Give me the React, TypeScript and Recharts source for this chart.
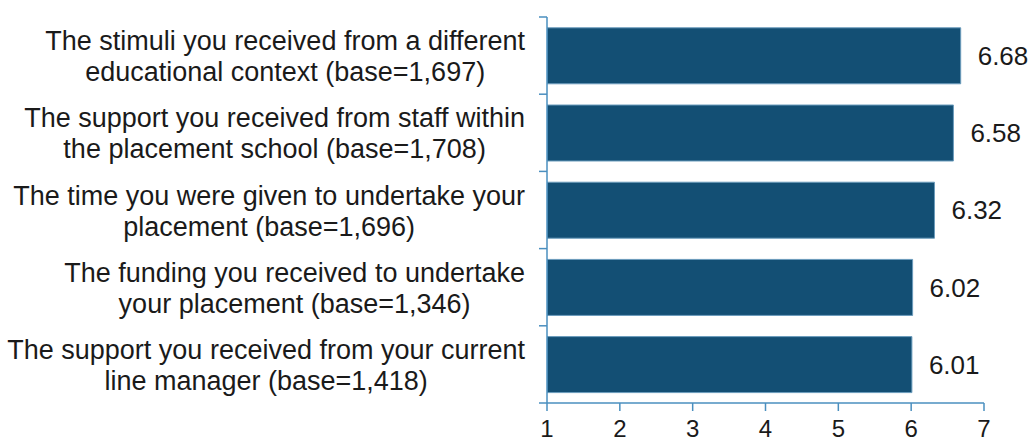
import { BarChart, Bar, XAxis, YAxis, LabelList } from 'recharts';

const categories = [
  'The stimuli you received from a different\neducational context (base=1,697)',
  'The support you received from staff within\nthe placement school (base=1,708)',
  'The time you were given to undertake your\nplacement (base=1,696)',
  'The funding you received to undertake\nyour placement (base=1,346)',
  'The support you received from your current\nline manager (base=1,418)',
];
const scores = [6.68, 6.58, 6.32, 6.02, 6.01];
const xTicks = [1, 2, 3, 4, 5, 6, 7];

const data = categories.map((name, i) => ({ name, score: scores[i] }));

const FONT = '"Liberation Sans", Arial, sans-serif';
const AXIS = '#4a8fbf';
const LABEL_SIZE = 27;
const BAND = (437 - 17 - 34) / categories.length;

let ctx: CanvasRenderingContext2D | null = null;
function textWidth(s: string) {
  if (!ctx) ctx = document.createElement('canvas').getContext('2d');
  if (!ctx) return s.length * 12;
  ctx.font = `${LABEL_SIZE}px ${FONT}`;
  return ctx.measureText(s).width;
}

function CategoryTick(props: any) {
  const { x, y, payload, index } = props;
  const lines: string[] = String(payload.value).split('\n');
  const w = Math.max(...lines.map(textWidth));
  const cx = x - w / 2;
  const half = BAND / 2;
  const axisX = x + 22;
  return (
    <g>
      <line x1={axisX - 8} x2={axisX} y1={y - half} y2={y - half} stroke={AXIS} strokeWidth={1.5} />
      {index === categories.length - 1 && (
        <line x1={axisX - 8} x2={axisX} y1={y + half} y2={y + half} stroke={AXIS} strokeWidth={1.5} />
      )}
      <text x={cx} y={y} textAnchor="middle" fontSize={LABEL_SIZE} fontFamily={FONT} fill="#1a1a1a">
        {lines.map((l, i) => (
          <tspan key={i} x={cx} dy={i === 0 ? (-(lines.length - 1) * 15.5 + 10) : 31}>
            {l}
          </tspan>
        ))}
      </text>
    </g>
  );
}

export default function App() {
  return (
    <div style={{ position: 'absolute', left: 0, top: 0, width: 1032, height: 437, background: '#fff' }}>
      <BarChart
        width={1032}
        height={437}
        data={data}
        layout="vertical"
        margin={{ top: 17, right: 48, left: 0, bottom: 0 }}
        barCategoryGap="14%"
      >
        <XAxis
          type="number"
          domain={[1, 7]}
          ticks={xTicks}
          allowDataOverflow
          height={34}
          stroke={AXIS}
          strokeWidth={1.5}
          tickSize={8}
          tickMargin={9}
          tick={{ fill: '#1a1a1a', fontSize: 24, fontFamily: FONT }}
        />
        <YAxis
          type="category"
          dataKey="name"
          width={547}
          stroke={AXIS}
          strokeWidth={1.5}
          tickLine={false}
          tickSize={0}
          tickMargin={22}
          interval={0}
          tick={<CategoryTick />}
        />
        <Bar dataKey="score" fill="#134f74" stroke="#6b9cbc" strokeWidth={1} isAnimationActive={false}>
          <LabelList
            dataKey="score"
            position="right"
            offset={17}
            formatter={(v: any) => Number(v).toFixed(2)}
            style={{ fontSize: 26, fontFamily: FONT, fill: '#1a1a1a' }}
          />
        </Bar>
      </BarChart>
    </div>
  );
}
